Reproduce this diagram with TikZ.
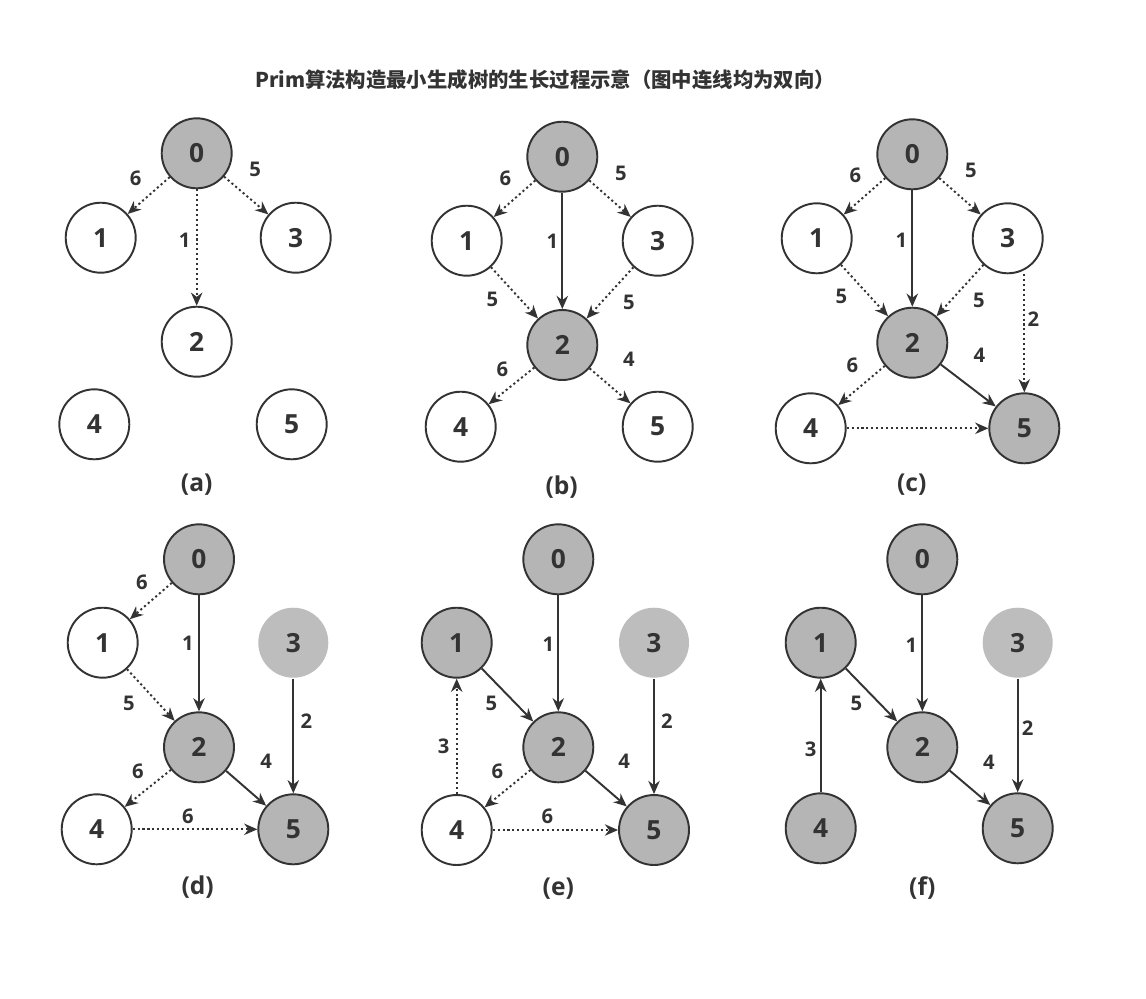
\documentclass[tikz,border=0pt]{standalone}
\usepackage{fontspec}
\setmainfont{Open Sans}
\newfontfamily\cjk{Noto Sans CJK SC}
\usetikzlibrary{arrows.meta}
\definecolor{ink}{RGB}{51,51,51}
\definecolor{done}{RGB}{181,181,181}
\definecolor{faded}{RGB}{189,189,189}
\tikzset{
    vertex/.style={
        circle,
        draw=ink,
        line width=1.1pt,
        fill=white,
        minimum size=1.4cm,
        inner sep=0pt,
        text=ink,
        font=\fontsize{15}{15}\selectfont\bfseries
    },
    intree/.style={
        vertex,
        fill=done
    },
    ghost/.style={
        vertex,
        draw=none,
        fill=faded
    },
    treeline/.style={
        -{Stealth[length=7.5pt,width=6.5pt]},
        line width=1.1pt,
        draw=ink
    },
    candline/.style={
        treeline,
        dash pattern=on 1.2pt off 1.6pt
    },
    wt/.style={
        inner sep=0pt,
        text=ink,
        font=\fontsize{11.5}{11.5}\selectfont\bfseries
    },
    panel/.style={
        text=ink,
        font=\fontsize{14}{14}\selectfont\bfseries
    }
}

\begin{document}
\begin{tikzpicture}[x=0.02cm, y=-0.02cm]
    \useasboundingbox[fill=white] (0,0) rectangle (1146,998);
    \node[text=ink, font=\cjk\fontsize{11.6}{11.6}\selectfont\bfseries] (title) at (545,80)
        {Prim算法构造最小生成树的生长过程示意（图中连线均为双向）};

    % (a)
    \node[intree] (a0) at (196.7,153.3) {0};
    \node[vertex] (a1) at (100.7,237.7) {1};
    \node[vertex] (a3) at (295.7,237.7) {3};
    \node[vertex] (a2) at (196.7,341.7) {2};
    \node[vertex] (a4) at (94.3,424.3) {4};
    \node[vertex] (a5) at (291.7,424.3) {5};
    \node[panel] (acap) at (196.7,485) {(a)};
    \draw[candline] (a0) -- node[wt, shift={(-13,-17)}] {6} (a1);
    \draw[candline] (a0) -- node[wt, shift={(9,-26)}] {5} (a3);
    \draw[candline] (a0) -- node[wt, shift={(-12,-7)}] {1} (a2);

    % (b)
    \node[intree] (b0) at (562.3,156.7) {0};
    \node[vertex] (b1) at (466.7,240.7) {1};
    \node[vertex] (b3) at (657.7,240.7) {3};
    \node[intree] (b2) at (562.3,345) {2};
    \node[vertex] (b4) at (460.7,426.7) {4};
    \node[vertex] (b5) at (657.7,426.7) {5};
    \node[panel] (bcap) at (561.7,486.7) {(b)};
    \draw[candline] (b0) -- node[wt, shift={(-9,-20)}] {6} (b1);
    \draw[candline] (b0) -- node[wt, shift={(11,-25)}] {5} (b3);
    \draw[treeline] (b0) -- node[wt, shift={(-10,-10)}] {1} (b2);
    \draw[candline] (b1) -- node[wt, shift={(-22,7)}] {5} (b2);
    \draw[candline] (b3) -- node[wt, shift={(19,10)}] {5} (b2);
    \draw[candline] (b2) -- node[wt, shift={(-9,-17)}] {6} (b4);
    \draw[candline] (b2) -- node[wt, shift={(19,-27)}] {4} (b5);

    % (c)
    \node[intree] (c0) at (912.3,154.3) {0};
    \node[vertex] (c1) at (816.7,238.3) {1};
    \node[vertex] (c3) at (1007.7,238.3) {3};
    \node[intree] (c2) at (912.3,342.7) {2};
    \node[vertex] (c4) at (810.7,428.3) {4};
    \node[intree] (c5) at (1024.3,428.3) {5};
    \node[panel] (ccap) at (911.7,485) {(c)};
    \draw[candline] (c0) -- node[wt, shift={(-9,-21)}] {6} (c1);
    \draw[candline] (c0) -- node[wt, shift={(11,-26)}] {5} (c3);
    \draw[treeline] (c0) -- node[wt, shift={(-11,-8)}] {1} (c2);
    \draw[candline] (c1) -- node[wt, shift={(-23,6)}] {5} (c2);
    \draw[candline] (c3) -- node[wt, shift={(19,10)}] {5} (c2);
    \draw[candline] (c3.south -| c5) -- node[wt, shift={(9,-14)}] {2} (c5);
    \draw[candline] (c2) -- node[wt, shift={(-9,-20)}] {6} (c4);
    \draw[treeline] (c2) -- node[wt, shift={(11,-30)}] {4} (c5);
    \draw[candline] (c4) -- (c5);

    % (d)
    \node[intree] (d0) at (199,559.3) {0};
    \node[vertex] (d1) at (102.7,642.7) {1};
    \node[ghost] (d3) at (293.3,642.7) {3};
    \node[intree] (d2) at (199,747.3) {2};
    \node[vertex] (d4) at (96.7,829.3) {4};
    \node[intree] (d5) at (293.3,829.3) {5};
    \node[panel] (dcap) at (197.7,886.7) {(d)};
    \draw[candline] (d0) -- node[wt, shift={(-9,-19)}] {6} (d1);
    \draw[treeline] (d0) -- node[wt, shift={(-11,-10)}] {1} (d2);
    \draw[candline] (d1) -- node[wt, shift={(-22,8)}] {5} (d2);
    \draw[treeline] (d3) -- node[wt, shift={(13,-15)}] {2} (d5);
    \draw[candline] (d2) -- node[wt, shift={(-10,-17)}] {6} (d4);
    \draw[treeline] (d2) -- node[wt, shift={(20,-27)}] {4} (d5);
    \draw[candline] (d4) -- node[wt, shift={(-7,-13)}] {6} (d5);

    % (e)
    \node[intree] (e0) at (558.3,559.3) {0};
    \node[intree] (e1) at (456.7,642.7) {1};
    \node[ghost] (e3) at (654,642.7) {3};
    \node[intree] (e2) at (558.3,747.3) {2};
    \node[vertex] (e4) at (456.7,830) {4};
    \node[intree] (e5) at (654,830) {5};
    \node[panel] (ecap) at (558.3,888.3) {(e)};
    \draw[treeline] (e0) -- node[wt, shift={(-10,-9)}] {1} (e2);
    \draw[treeline] (e1) -- node[wt, shift={(-16,8)}] {5} (e2);
    \draw[treeline] (e3) -- node[wt, shift={(13,-15)}] {2} (e5);
    \draw[candline] (e4) -- node[wt, shift={(-13,10)}] {3} (e1);
    \draw[candline] (e2) -- node[wt, shift={(-10,-17)}] {6} (e4);
    \draw[treeline] (e2) -- node[wt, shift={(18,-27)}] {4} (e5);
    \draw[candline] (e4) -- node[wt, shift={(-8,-14)}] {6} (e5);

    % (f)
    \node[intree] (f0) at (922.3,559.3) {0};
    \node[intree] (f1) at (820.7,642.7) {1};
    \node[ghost] (f3) at (1017.7,642.7) {3};
    \node[intree] (f2) at (922.3,747.3) {2};
    \node[intree] (f4) at (820.7,828.3) {4};
    \node[intree] (f5) at (1017.7,828.3) {5};
    \node[panel] (fcap) at (922.3,888.3) {(f)};
    \draw[treeline] (f0) -- node[wt, shift={(-11,-8)}] {1} (f2);
    \draw[treeline] (f1) -- node[wt, shift={(-15,8)}] {5} (f2);
    \draw[treeline] (f3) -- node[wt, shift={(10,-7)}] {2} (f5);
    \draw[treeline] (f4) -- node[wt, shift={(-10,14)}] {3} (f1);
    \draw[treeline] (f2) -- node[wt, shift={(19,-26)}] {4} (f5);
\end{tikzpicture}
\end{document}
